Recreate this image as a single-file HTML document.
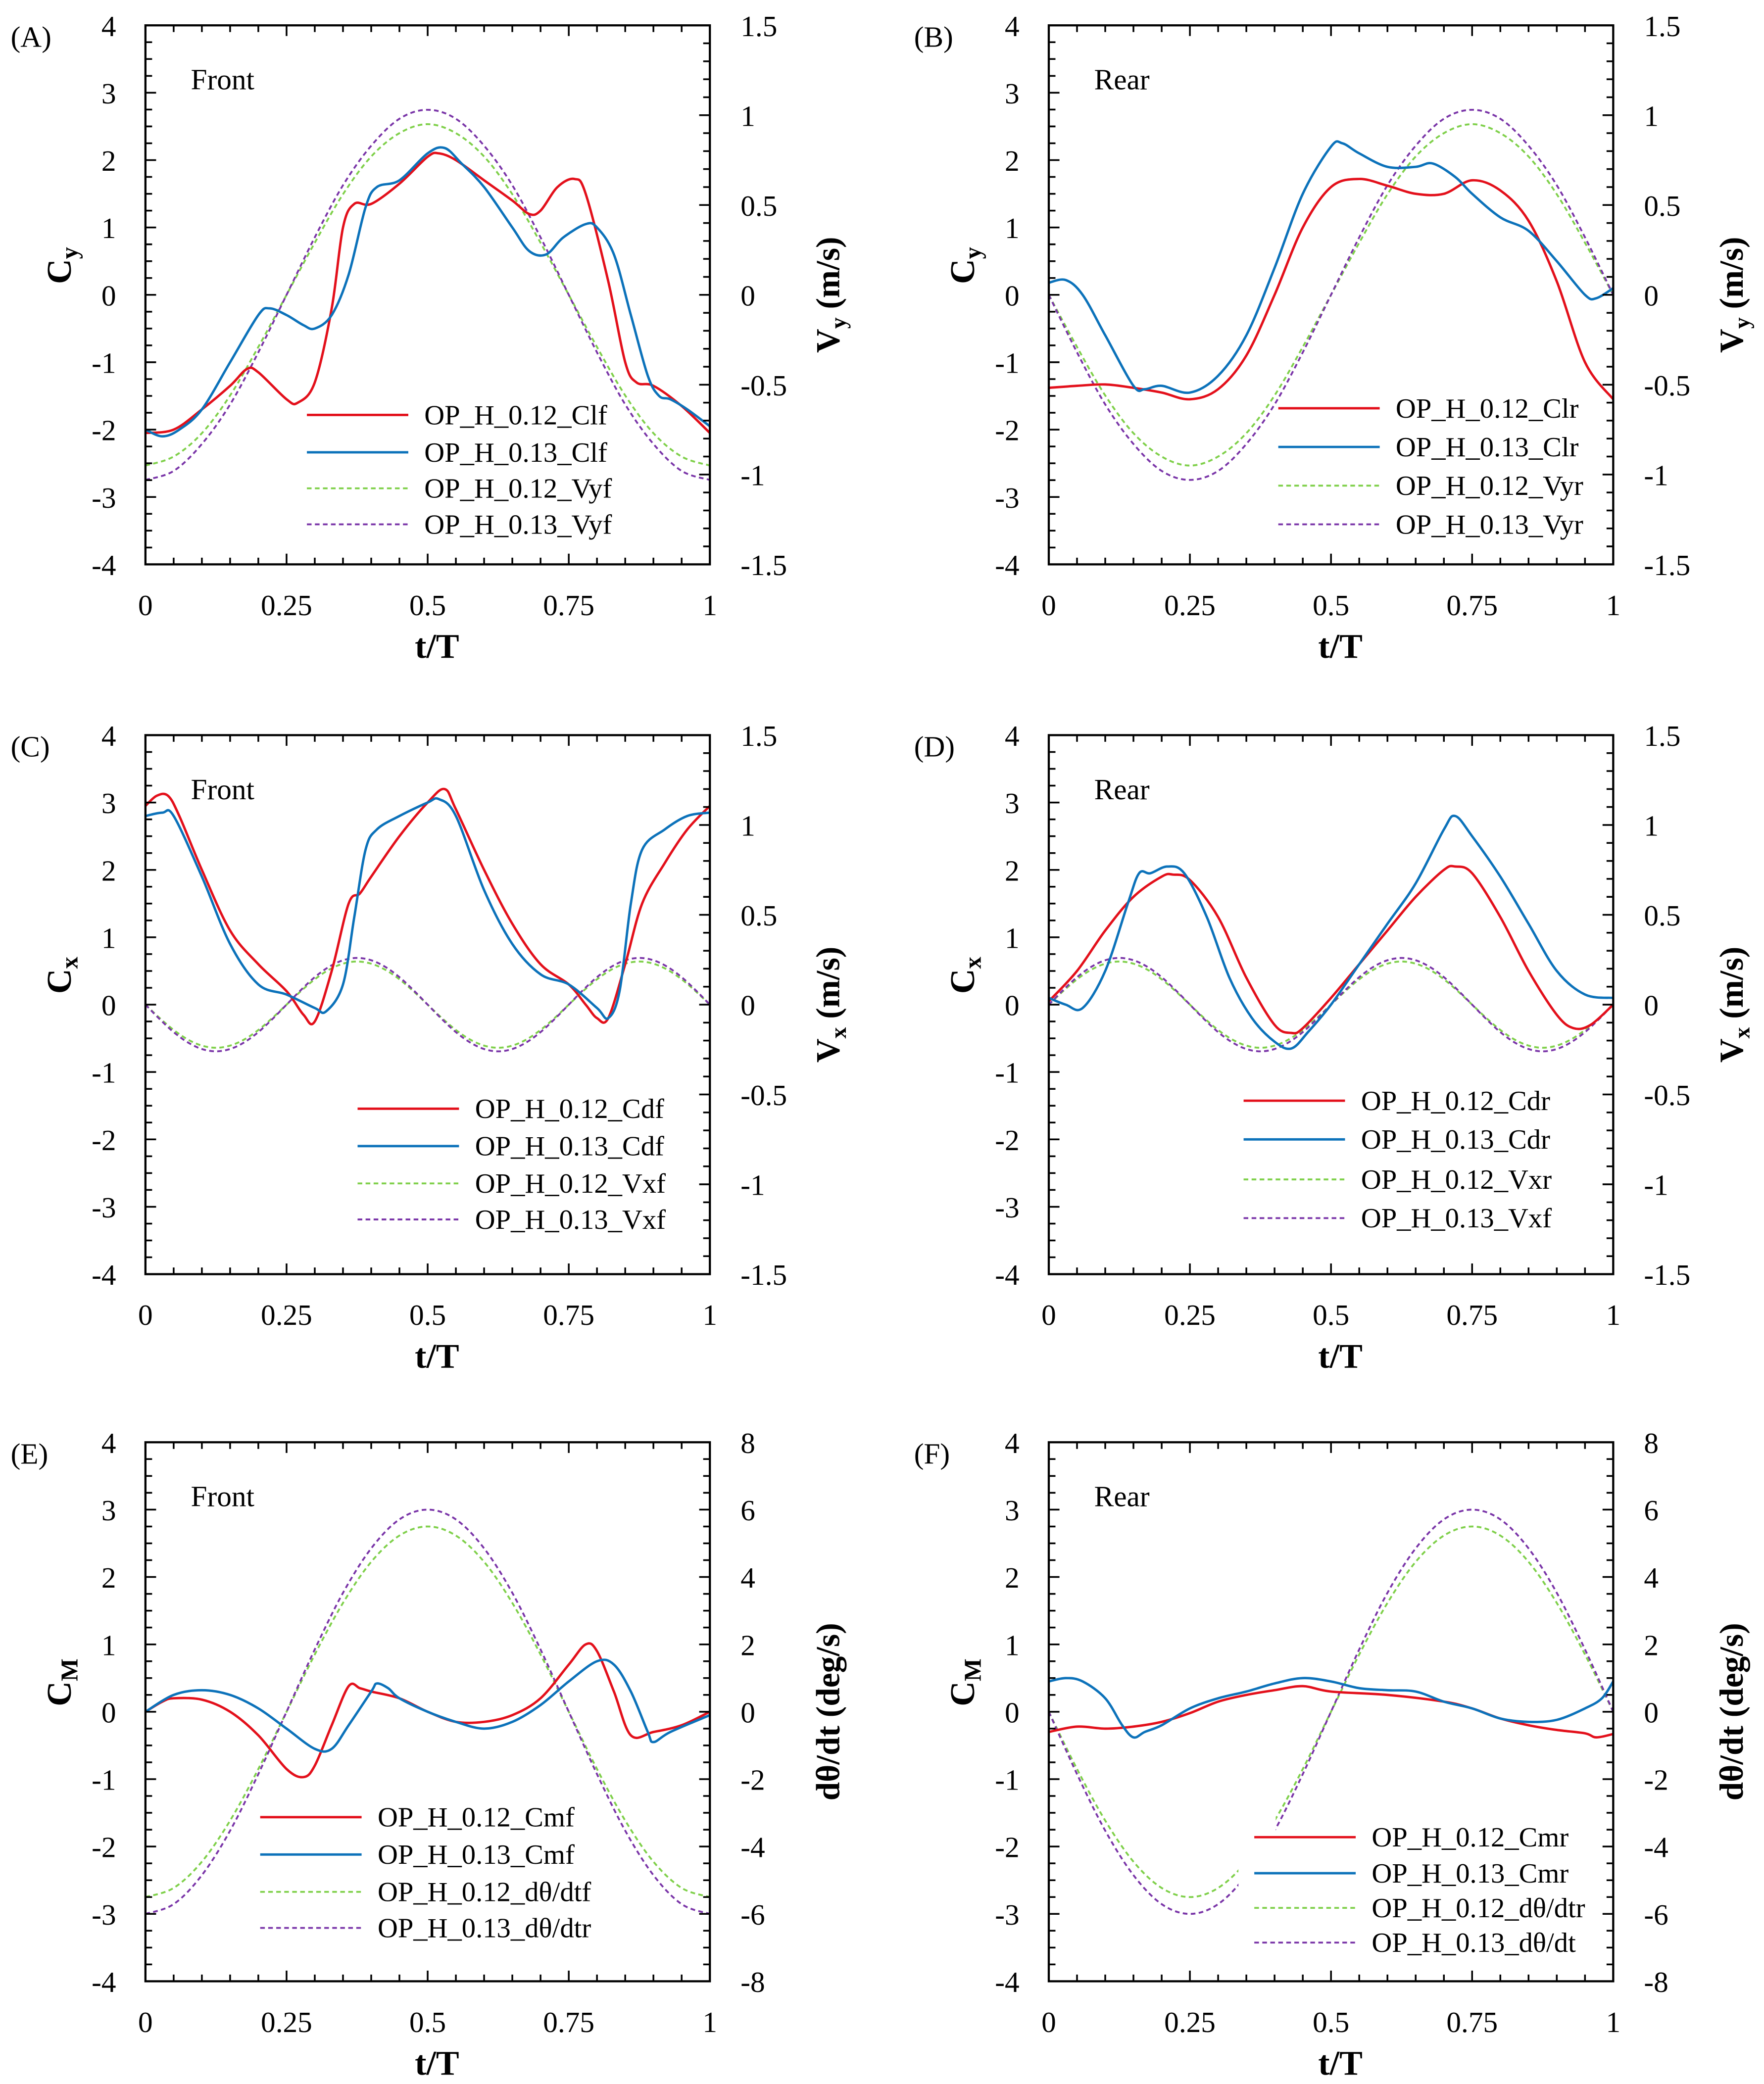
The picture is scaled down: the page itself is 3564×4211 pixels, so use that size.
<!DOCTYPE html>
<html><head><meta charset="utf-8"><style>
html,body{margin:0;padding:0;background:#fff}
svg{display:block}
text{font-family:"Liberation Serif","DejaVu Serif",serif;fill:#000}
</style></head><body>
<svg id="fig" width="3564" height="4211" viewBox="0 0 1322 1562" preserveAspectRatio="none" xmlns="http://www.w3.org/2000/svg"></svg>
<script>
// ---------- DATA ----------
const tDash = [0,0.05,0.1,0.15,0.2,0.25,0.3,0.35,0.4,0.45,0.5,0.55,0.6,0.65,0.7,0.75,0.8,0.85,0.9,0.95,1];
const tDash2 = [0,0.025,0.05,0.075,0.1,0.125,0.15,0.175,0.2,0.225,0.25,0.275,0.3,0.325,0.35,0.375,0.4,0.425,0.45,0.475,0.5,0.525,0.55,0.575,0.6,0.625,0.65,0.675,0.7,0.725,0.75,0.775,0.8,0.825,0.85,0.875,0.9,0.925,0.95,0.975,1];

// Panel A
const tA_red = [0,0.05,0.1,0.15,0.18,0.2,0.25,0.27,0.3,0.33,0.35,0.37,0.4,0.45,0.5,0.52,0.55,0.6,0.65,0.68,0.7,0.73,0.76,0.78,0.82,0.85,0.87,0.9,0.95,1];
const vA_red = [-2.05,-2.0,-1.7,-1.35,-1.1,-1.15,-1.55,-1.6,-1.3,-0.2,1.0,1.35,1.35,1.65,2.05,2.1,2.0,1.7,1.4,1.2,1.25,1.6,1.72,1.5,0.2,-1.0,-1.3,-1.35,-1.65,-2.05];
const tA_blue = [0,0.03,0.06,0.1,0.15,0.2,0.22,0.25,0.28,0.3,0.33,0.36,0.39,0.41,0.45,0.5,0.53,0.56,0.6,0.65,0.68,0.71,0.74,0.78,0.8,0.83,0.86,0.89,0.91,0.93,0.96,1];
const vA_blue = [-2.0,-2.1,-2.0,-1.7,-1.0,-0.3,-0.2,-0.3,-0.45,-0.5,-0.3,0.3,1.3,1.6,1.7,2.1,2.18,1.95,1.6,1.0,0.65,0.6,0.85,1.05,1.0,0.6,-0.3,-1.2,-1.5,-1.55,-1.7,-1.95];
const vA_green = [-0.95,-0.90,-0.77,-0.56,-0.29,0,0.29,0.56,0.77,0.90,0.95,0.90,0.77,0.56,0.29,0,-0.29,-0.56,-0.77,-0.90,-0.95];
const vA_purple = [-1.03,-0.98,-0.83,-0.61,-0.32,0,0.32,0.61,0.83,0.98,1.03,0.98,0.83,0.61,0.32,0,-0.32,-0.61,-0.83,-0.98,-1.03];

// Panel B
const tB_red = [0,0.05,0.1,0.15,0.2,0.25,0.3,0.35,0.4,0.45,0.5,0.55,0.6,0.65,0.7,0.75,0.8,0.85,0.9,0.95,1];
const vB_red = [-1.38,-1.35,-1.33,-1.38,-1.45,-1.55,-1.4,-0.9,0.0,1.0,1.6,1.72,1.62,1.5,1.5,1.7,1.55,1.1,0.2,-1.0,-1.55];
const tB_blue = [0,0.03,0.06,0.1,0.15,0.17,0.2,0.25,0.3,0.35,0.4,0.45,0.5,0.52,0.55,0.6,0.65,0.68,0.72,0.75,0.8,0.85,0.9,0.95,0.97,1];
const vB_blue = [0.18,0.22,0.0,-0.6,-1.35,-1.4,-1.35,-1.45,-1.2,-0.6,0.4,1.5,2.2,2.25,2.1,1.9,1.9,1.95,1.75,1.5,1.15,0.95,0.5,0.0,-0.05,0.1];
const vB_green = [0,-0.29,-0.56,-0.77,-0.90,-0.95,-0.90,-0.77,-0.56,-0.29,0,0.29,0.56,0.77,0.90,0.95,0.90,0.77,0.56,0.29,0];
const vB_purple = [0,-0.32,-0.61,-0.83,-0.98,-1.03,-0.98,-0.83,-0.61,-0.32,0,0.32,0.61,0.83,0.98,1.03,0.98,0.83,0.61,0.32,0];

// Panel C
const tC_red = [0,0.02,0.04,0.06,0.1,0.15,0.2,0.25,0.28,0.3,0.33,0.36,0.38,0.4,0.45,0.5,0.53,0.55,0.6,0.65,0.7,0.75,0.78,0.8,0.82,0.85,0.88,0.92,0.96,1];
const vC_red = [2.95,3.1,3.1,2.8,2.0,1.1,0.6,0.2,-0.15,-0.25,0.5,1.5,1.65,1.9,2.5,3.0,3.2,2.9,2.0,1.2,0.6,0.3,0.0,-0.2,-0.2,0.6,1.5,2.1,2.6,2.95];
const tC_blue = [0,0.03,0.05,0.1,0.15,0.2,0.25,0.3,0.32,0.35,0.37,0.39,0.41,0.45,0.5,0.52,0.55,0.6,0.65,0.7,0.75,0.8,0.82,0.84,0.86,0.88,0.92,0.96,1];
const vC_blue = [2.8,2.85,2.8,1.9,0.9,0.3,0.15,-0.05,-0.1,0.3,1.3,2.3,2.6,2.8,3.0,3.05,2.8,1.7,0.9,0.45,0.3,-0.05,-0.2,0.2,1.5,2.3,2.6,2.8,2.85];
const vC_green = [0,-0.074,-0.141,-0.194,-0.228,-0.24,-0.228,-0.194,-0.141,-0.074,0,0.074,0.141,0.194,0.228,0.24,0.228,0.194,0.141,0.074,0,-0.074,-0.141,-0.194,-0.228,-0.24,-0.228,-0.194,-0.141,-0.074,0,0.074,0.141,0.194,0.228,0.24,0.228,0.194,0.141,0.074,0];
const vC_purple = [0,-0.080,-0.153,-0.210,-0.247,-0.26,-0.247,-0.210,-0.153,-0.080,0,0.080,0.153,0.210,0.247,0.26,0.247,0.210,0.153,0.080,0,-0.080,-0.153,-0.210,-0.247,-0.26,-0.247,-0.210,-0.153,-0.080,0,0.080,0.153,0.210,0.247,0.26,0.247,0.210,0.153,0.080,0];

// Panel D
const tD_red = [0,0.05,0.1,0.15,0.2,0.22,0.25,0.3,0.35,0.4,0.43,0.45,0.5,0.55,0.6,0.65,0.7,0.72,0.75,0.8,0.85,0.9,0.93,0.96,1];
const vD_red = [0.05,0.5,1.1,1.6,1.9,1.93,1.85,1.3,0.4,-0.3,-0.42,-0.35,0.1,0.6,1.1,1.6,2.0,2.05,1.95,1.3,0.5,-0.15,-0.35,-0.3,0.0];
const tD_blue = [0,0.03,0.06,0.1,0.14,0.16,0.18,0.21,0.24,0.28,0.32,0.36,0.4,0.43,0.46,0.5,0.55,0.6,0.65,0.7,0.72,0.75,0.8,0.85,0.9,0.95,1];
const vD_blue = [0.1,0.0,-0.05,0.5,1.5,1.95,1.95,2.05,1.95,1.3,0.4,-0.2,-0.55,-0.65,-0.4,0.0,0.6,1.2,1.8,2.6,2.8,2.5,1.9,1.2,0.5,0.15,0.1];
const vD_green = [0,0.074,0.141,0.194,0.228,0.24,0.228,0.194,0.141,0.074,0,-0.074,-0.141,-0.194,-0.228,-0.24,-0.228,-0.194,-0.141,-0.074,0,0.074,0.141,0.194,0.228,0.24,0.228,0.194,0.141,0.074,0,-0.074,-0.141,-0.194,-0.228,-0.24,-0.228,-0.194,-0.141,-0.074,0];
const vD_purple = [0,0.080,0.153,0.210,0.247,0.26,0.247,0.210,0.153,0.080,0,-0.080,-0.153,-0.210,-0.247,-0.26,-0.247,-0.210,-0.153,-0.080,0,0.080,0.153,0.210,0.247,0.26,0.247,0.210,0.153,0.080,0,-0.080,-0.153,-0.210,-0.247,-0.26,-0.247,-0.210,-0.153,-0.080,0];

// Panel E
const tE_red = [0,0.03,0.05,0.1,0.15,0.2,0.25,0.28,0.3,0.33,0.36,0.38,0.4,0.45,0.5,0.55,0.6,0.65,0.7,0.75,0.78,0.8,0.83,0.86,0.9,0.95,1];
const vE_red = [0.0,0.15,0.2,0.18,0.0,-0.35,-0.85,-0.97,-0.8,-0.2,0.38,0.35,0.3,0.2,0.0,-0.15,-0.15,-0.05,0.2,0.7,1.0,0.9,0.3,-0.35,-0.3,-0.2,0.0];
const tE_blue = [0,0.05,0.1,0.15,0.2,0.25,0.3,0.33,0.36,0.4,0.41,0.43,0.45,0.5,0.55,0.6,0.65,0.7,0.75,0.8,0.83,0.86,0.89,0.9,0.93,1];
const vE_blue = [0.0,0.25,0.32,0.25,0.05,-0.25,-0.55,-0.55,-0.2,0.3,0.42,0.35,0.2,0.0,-0.15,-0.25,-0.15,0.1,0.45,0.75,0.7,0.3,-0.3,-0.45,-0.3,-0.05];
const vE_green = [-5.5,-5.23,-4.45,-3.23,-1.70,0,1.70,3.23,4.45,5.23,5.5,5.23,4.45,3.23,1.70,0,-1.70,-3.23,-4.45,-5.23,-5.5];
const vE_purple = [-6,-5.71,-4.85,-3.53,-1.85,0,1.85,3.53,4.85,5.71,6,5.71,4.85,3.53,1.85,0,-1.85,-3.53,-4.85,-5.71,-6];

// Panel F
const tF_red = [0,0.05,0.1,0.15,0.2,0.25,0.3,0.35,0.4,0.45,0.5,0.6,0.7,0.75,0.8,0.85,0.9,0.95,0.97,1];
const vF_red = [-0.3,-0.22,-0.25,-0.22,-0.15,-0.02,0.15,0.25,0.32,0.38,0.3,0.25,0.15,0.05,-0.1,-0.2,-0.27,-0.32,-0.38,-0.33];
const tF_blue = [0,0.03,0.06,0.1,0.13,0.15,0.17,0.2,0.25,0.3,0.35,0.4,0.45,0.5,0.55,0.6,0.65,0.7,0.75,0.8,0.85,0.9,0.95,0.98,1];
const vF_blue = [0.45,0.5,0.45,0.2,-0.2,-0.38,-0.3,-0.2,0.05,0.2,0.3,0.42,0.5,0.45,0.35,0.32,0.3,0.15,0.05,-0.1,-0.15,-0.12,0.05,0.2,0.45];
const vF_green = [0,-1.70,-3.23,-4.45,-5.23,-5.5,-5.23,-4.45,-3.23,-1.70,0,1.70,3.23,4.45,5.23,5.5,5.23,4.45,3.23,1.70,0];
const vF_purple = [0,-1.85,-3.53,-4.85,-5.71,-6,-5.71,-4.85,-3.53,-1.85,0,1.85,3.53,4.85,5.71,6,5.71,4.85,3.53,1.85,0];

const xTicks = ["0","0.25","0.5","0.75","1"];
const leftTicks = ["-4","-3","-2","-1","0","1","2","3","4"];
const rightTicksV = ["-1.5","-1","-0.5","0","0.5","1","1.5"];
const rightTicksM = ["-8","-6","-4","-2","0","2","4","6","8"];

// ---------- DRAWING ----------
const NS = "http://www.w3.org/2000/svg";
const svg = document.getElementById('fig');
const RED="#e3101b", BLUE="#0c72ba", GREEN="#7fd04a", PURPLE="#7a35a8";
function mk(tag, attrs, parent){
  const e = document.createElementNS(NS, tag);
  for (const k in attrs) e.setAttribute(k, attrs[k]);
  (parent||svg).appendChild(e);
  return e;
}
function smoothPath(pts){
  let d = "M"+pts[0][0].toFixed(2)+","+pts[0][1].toFixed(2);
  for (let i=0;i<pts.length-1;i++){
    const p0=pts[Math.max(0,i-1)], p1=pts[i], p2=pts[i+1], p3=pts[Math.min(pts.length-1,i+2)];
    const c1x=p1[0]+(p2[0]-p0[0])/6, c1y=p1[1]+(p2[1]-p0[1])/6;
    const c2x=p2[0]-(p3[0]-p1[0])/6, c2y=p2[1]-(p3[1]-p1[1])/6;
    d += " C"+c1x.toFixed(2)+","+c1y.toFixed(2)+" "+c2x.toFixed(2)+","+c2y.toFixed(2)+" "+p2[0].toFixed(2)+","+p2[1].toFixed(2);
  }
  return d;
}

function panel(cfg){
  const L=cfg.x, T=cfg.y, W=423, H=404, R=L+W, B=T+H;
  const g = mk('g', {});
  
  
  const sx = t => L + t*W;
  const syL = v => B - (v+4)/8*H;
  const syR = v => B - (v-cfg.rmin)/(cfg.rmax-cfg.rmin)*H;

  function series(ts, vs, axis, color, dashed, name){
    const pts = ts.map((t,i)=>[sx(t), axis==='L'?syL(vs[i]):syR(vs[i])]);
    const p = mk('path', {d:smoothPath(pts), fill:'none', stroke:color, 'stroke-width':dashed?1.4:1.8, 'stroke-dasharray':dashed?'3.5 2.5':'none', 'stroke-linejoin':'round'}, g);
    
    
  }
  series(tDashFor(cfg), cfg.green, 'R', GREEN, true, 'series-green-'+cfg.id.toLowerCase());
  series(tDashFor(cfg), cfg.purple, 'R', PURPLE, true, 'series-purple-'+cfg.id.toLowerCase());
  series(cfg.tr, cfg.red, 'L', RED, false, 'series-red-'+cfg.id.toLowerCase());
  series(cfg.tb, cfg.blue, 'L', BLUE, false, 'series-blue-'+cfg.id.toLowerCase());
  if (cfg.gap){
    const gr = mk('rect', {x:sx(cfg.gap[0]), y:syL(cfg.gap[2]), width:sx(cfg.gap[1])-sx(cfg.gap[0]), height:syL(cfg.gap[3])-syL(cfg.gap[2]), fill:'#fff'}, g);
    
    
  }

  const fr = mk('rect', {x:L, y:T, width:W, height:H, fill:'none', stroke:'#000', 'stroke-width':1.6}, g);
  
  
  let td = "";
  for (let i=0;i<=20;i++){ const x=sx(i/20), len=(i%5===0)?8:5; td+=`M${x},${B}v${-len}M${x},${T}v${len}`; }
  for (let i=0;i<=32;i++){ const y=B-i/32*H, len=(i%4===0)?8:5; td+=`M${L},${y}h${len}`; }
  const rn = cfg.rminor;
  for (let i=0;i<=rn;i++){ const y=B-i/rn*H, len=(i%(rn/(cfg.rlabels.length-1))===0)?8:5; td+=`M${R},${y}h${-len}`; }
  const tk = mk('path', {d:td, stroke:'#000', 'stroke-width':1.3, fill:'none'}, g);
  
  

  xTicks.forEach((s,i)=>{
    const t = mk('text', {x:sx(i*0.25), y:B+38, 'font-size':22, 'text-anchor':'middle'}, g); t.textContent=s;
    
    
  });
  leftTicks.forEach((s,i)=>{
    const t = mk('text', {x:L-22, y:syL(-4+i)+8, 'font-size':22, 'text-anchor':'end'}, g); t.textContent=s;
    
    
  });
  cfg.rlabels.forEach((s,i)=>{
    const t = mk('text', {x:R+23, y:B - i/(cfg.rlabels.length-1)*H + 8, 'font-size':22, 'text-anchor':'start'}, g); t.textContent=s;
    
    
  });

  const pl = mk('text', {x:L-101, y:T+16, 'font-size':22}, g); pl.textContent='('+cfg.id+')';
  
  
  const sub = mk('text', {x:L+34, y:T+48, 'font-size':22}, g); sub.textContent=cfg.sub;
  
  
  const xl = mk('text', {x:L+W/2+7, y:B+70, 'font-size':26, 'font-weight':'bold', 'text-anchor':'middle'}, g); xl.textContent='t/T';
  
  
  const yl = mk('text', {transform:`translate(${L-56},${T+H/2-22}) rotate(-90)`, 'font-size':26, 'font-weight':'bold', 'text-anchor':'middle'}, g);
  yl.innerHTML = 'C<tspan font-size="18" dy="5">'+cfg.lsub+'</tspan>';
  
  
  const yr = mk('text', {transform:`translate(${R+97},${T+H/2}) rotate(-90)`, 'font-size':25, 'font-weight':'bold', 'text-anchor':'middle'}, g);
  yr.innerHTML = cfg.rtitle;
  
  

  const lg = mk('g', {}, g);
  
  
  const cols=[RED,BLUE,GREEN,PURPLE];
  cfg.leg.forEach((s,i)=>{
    const y = cfg.legY[i];
    const ln = mk('line', {x1:cfg.legX, x2:cfg.legX+76, y1:y, y2:y, stroke:cols[i], 'stroke-width':i<2?1.8:1.4, 'stroke-dasharray':i<2?'none':'3.5 2.5'}, lg);
    
    
    const t = mk('text', {x:cfg.legX+88, y:y+7, 'font-size':21}, lg); t.textContent=s;
    
    
  });
}
function tDashFor(cfg){ return cfg.green.length===41 ? tDash2 : tDash; }

const VT='V<tspan font-size="17" dy="5">%</tspan><tspan dy="-5"> (m/s)</tspan>';
panel({id:'A', x:109, y:19, sub:'Front', lsub:'y', rtitle:VT.replace('%','y'), rmin:-1.5, rmax:1.5, rminor:30, rlabels:rightTicksV,
  tr:tA_red, red:vA_red, tb:tA_blue, blue:vA_blue, green:vA_green, purple:vA_purple,
  leg:['OP_H_0.12_Clf','OP_H_0.13_Clf','OP_H_0.12_Vyf','OP_H_0.13_Vyf'], legX:230, legY:[311,339,366,393]});
panel({id:'B', x:786, y:19, sub:'Rear', lsub:'y', rtitle:VT.replace('%','y'), rmin:-1.5, rmax:1.5, rminor:30, rlabels:rightTicksV,
  tr:tB_red, red:vB_red, tb:tB_blue, blue:vB_blue, green:vB_green, purple:vB_purple,
  leg:['OP_H_0.12_Clr','OP_H_0.13_Clr','OP_H_0.12_Vyr','OP_H_0.13_Vyr'], legX:958, legY:[306,335,364,393]});
panel({id:'C', x:109, y:551, sub:'Front', lsub:'x', rtitle:VT.replace('%','x'), rmin:-1.5, rmax:1.5, rminor:30, rlabels:rightTicksV,
  tr:tC_red, red:vC_red, tb:tC_blue, blue:vC_blue, green:vC_green, purple:vC_purple,
  leg:['OP_H_0.12_Cdf','OP_H_0.13_Cdf','OP_H_0.12_Vxf','OP_H_0.13_Vxf'], legX:268, legY:[831,859,887,914]});
panel({id:'D', x:786, y:551, sub:'Rear', lsub:'x', rtitle:VT.replace('%','x'), rmin:-1.5, rmax:1.5, rminor:30, rlabels:rightTicksV,
  tr:tD_red, red:vD_red, tb:tD_blue, blue:vD_blue, green:vD_green, purple:vD_purple,
  leg:['OP_H_0.12_Cdr','OP_H_0.13_Cdr','OP_H_0.12_Vxr','OP_H_0.13_Vxf'], legX:932, legY:[825,854,884,913]});
panel({id:'E', x:109, y:1081, sub:'Front', lsub:'M', rtitle:'dθ/dt (deg/s)', rmin:-8, rmax:8, rminor:32, rlabels:rightTicksM,
  tr:tE_red, red:vE_red, tb:tE_blue, blue:vE_blue, green:vE_green, purple:vE_purple,
  leg:['OP_H_0.12_Cmf','OP_H_0.13_Cmf','OP_H_0.12_dθ/dtf','OP_H_0.13_dθ/dtr'], legX:195, legY:[1362,1390,1418,1445]});
panel({id:'F', x:786, y:1081, sub:'Rear', lsub:'M', rtitle:'dθ/dt (deg/s)', rmin:-8, rmax:8, rminor:32, rlabels:rightTicksM,
  tr:tF_red, red:vF_red, tb:tF_blue, blue:vF_blue, green:vF_green, purple:vF_purple, gap:[0.336,0.402,-1.55,-2.8],
  leg:['OP_H_0.12_Cmr','OP_H_0.13_Cmr','OP_H_0.12_dθ/dtr','OP_H_0.13_dθ/dt'], legX:940, legY:[1377,1404,1430,1456]});
</script>
</body></html>
